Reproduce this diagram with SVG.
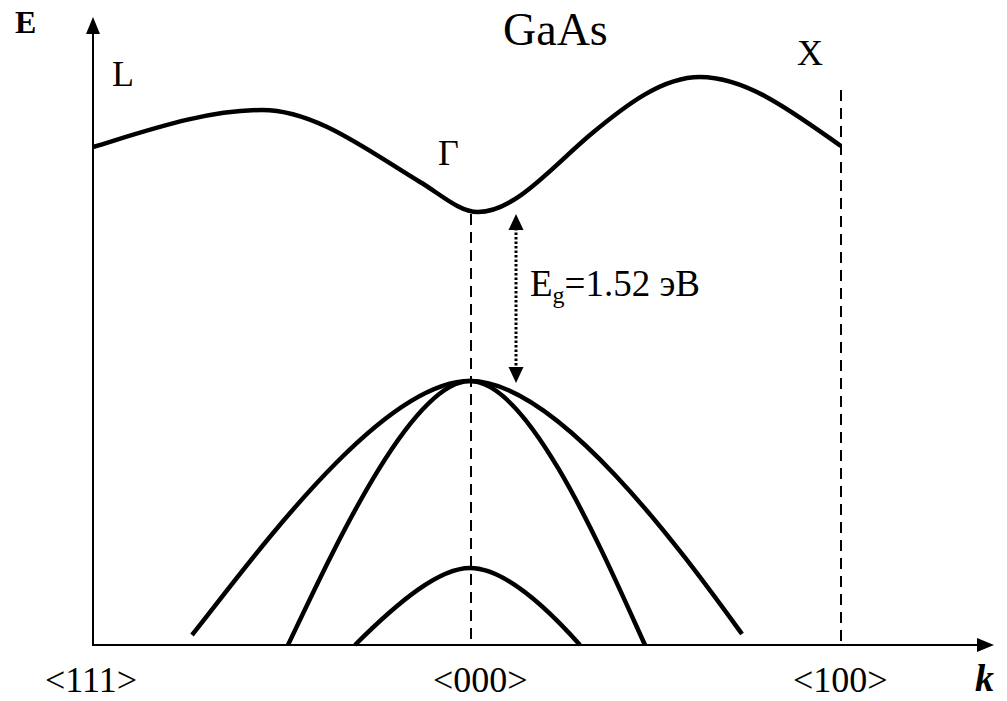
<svg xmlns="http://www.w3.org/2000/svg" width="1007" height="701" viewBox="0 0 1007 701">
<style>
.t{font-family:"Liberation Serif","Times New Roman","DejaVu Serif",serif;fill:#000}
.ax{stroke:#000;stroke-width:2;fill:none}
.band{stroke:#000;stroke-width:4.5;fill:none;stroke-linecap:butt}
.dash{stroke:#000;stroke-width:2;fill:none;stroke-dasharray:11 7}
.dot{stroke:#000;stroke-width:3;fill:none;stroke-dasharray:2.5 2}
.head{fill:#000}
</style>
<rect width="1007" height="701" fill="#fff"/>
<g id="axes">
<line class="ax" x1="93" y1="646" x2="93" y2="30"/>
<polygon class="head" points="93,17 86,34 100,34"/>
<line class="ax" x1="92" y1="645" x2="980" y2="645"/>
<polygon class="head" points="994,645 977,638 977,652"/>
</g>
<g id="connectors">
<line class="dash" x1="471" y1="214" x2="471" y2="645"/>
<line class="dash" x1="841" y1="90" x2="841" y2="645"/>
<line class="dot" x1="516" y1="228" x2="516" y2="368"/>
<polygon class="head" points="516,214 508.5,230 523.5,230"/>
<polygon class="head" points="516,383 508.5,367 523.5,367"/>
</g>
<g id="conduction-band">
<path class="band" d="M93,147 C149,130 206,110 262,110 C315,110 367,150 420,182 C439,193 459,212 478,212 C515,212 553,166 590,135 C627,104 663,77 700,77 C747,77 794,113 841,146"/>
</g>
<g id="valence-bands">
<path class="band" d="M192,635 C252,560 380,381 470,381 C560,381 688,560 742,634"/>
<path class="band" d="M288,645 C330,557 410,381 470,381 C530,381 605,557 645,645"/>
<path class="band" d="M355,645 C400,600 440,568 470,568 C500,568 540,600 580,645"/>
</g>
<g id="labels">
<text class="t" x="15" y="33" font-size="32" font-weight="bold">E</text>
<text class="t" x="112" y="86" font-size="36">L</text>
<text class="t" x="503" y="45" font-size="46">GaAs</text>
<text class="t" x="797" y="65" font-size="36">X</text>
<text class="t" x="438" y="165" font-size="36">Γ</text>
<text class="t" x="530" y="296" font-size="37">E<tspan font-size="24" dy="7">g</tspan><tspan dy="-7">=1.52 эВ</tspan></text>
<text class="t" x="45" y="692" font-size="36">&lt;111&gt;</text>
<text class="t" x="433" y="692" font-size="36">&lt;000&gt;</text>
<text class="t" x="793" y="692" font-size="36">&lt;100&gt;</text>
<text class="t" x="975" y="691" font-size="38" font-weight="bold" font-style="italic">k</text>
</g>
</svg>
